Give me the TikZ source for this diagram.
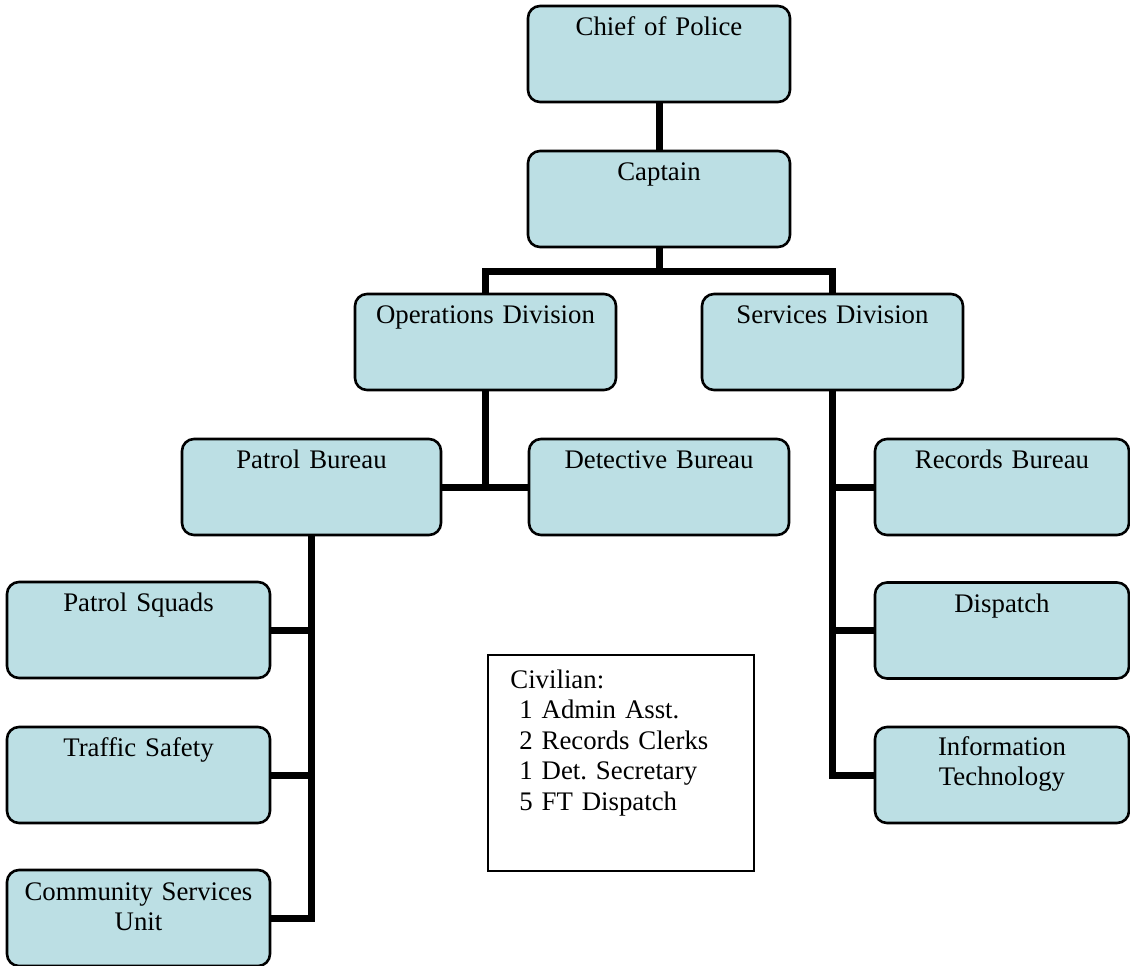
\documentclass[tikz,border=0pt]{standalone}
\usepackage{fontspec}
\setmainfont{Liberation Serif}
\usetikzlibrary{backgrounds}
\definecolor{boxfill}{RGB}{188,223,228}
\frenchspacing
\begin{document}
\begin{tikzpicture}[x=0.5pt,y=-0.5pt,
  box/.style={draw=black, line width=1.3pt, fill=boxfill, rounded corners=6pt,
    minimum height=48pt, inner sep=0pt},
  lbl/.style={anchor=base, inner sep=0pt, text width=128pt, align=center,
    font=\fontsize{13.4pt}{15pt}\selectfont},
  conn/.style={line width=3.5pt}]
\useasboundingbox (0,0) rectangle (1130,965);
% boxes
\node[box, minimum width=131pt] (chief) at (659,54) {};
\node[box, minimum width=131pt] (captain) at (659,199) {};
\node[box, minimum width=130.5pt] (ops) at (485.5,342) {};
\node[box, minimum width=130.5pt] (svc) at (832.5,342) {};
\node[box, minimum width=129.5pt] (patrol) at (311.5,487) {};
\node[box, minimum width=130pt] (det) at (659,487) {};
\node[box, minimum width=127pt] (records) at (1002,487) {};
\node[box, minimum width=127pt] (dispatch) at (1002,630.5) {};
\node[box, minimum width=127pt] (it) at (1002,775) {};
\node[box, minimum width=131.5pt] (squads) at (138.5,630) {};
\node[box, minimum width=131.5pt] (traffic) at (138.5,775) {};
\node[box, minimum width=131.5pt] (csu) at (138.5,918) {};
% labels
\node[lbl] (chiefT) at (659,35) {Chief of Police};
\node[lbl] (captainT) at (659,180) {Captain};
\node[lbl] (opsT) at (485.5,323) {Operations Division};
\node[lbl] (svcT) at (832.5,323) {Services Division};
\node[lbl] (patrolT) at (311.5,468) {Patrol Bureau};
\node[lbl] (detT) at (659,468) {Detective Bureau};
\node[lbl] (recordsT) at (1002,468) {Records Bureau};
\node[lbl] (dispatchT) at (1002,612) {Dispatch};
\node[lbl] (itT) at (1002,755) {Information\\Technology};
\node[lbl] (squadsT) at (138.5,611) {Patrol Squads};
\node[lbl] (trafficT) at (138.5,756) {Traffic Safety};
\node[lbl] (csuT) at (138.5,900) {Community Services\\Unit};
% civilian note
\node[draw=black, line width=1.2pt, anchor=north west, minimum width=133pt,
  minimum height=108pt, inner sep=0pt] (civ) at (487,654) {};
\node[anchor=base west, inner sep=0pt, text width=120pt, align=left,
  font=\fontsize{13.4pt}{15.25pt}\selectfont] (civT) at (510,688)
  {Civilian:\\ ~1 Admin Asst.\\ ~2 Records Clerks\\ ~1 Det. Secretary\\ ~5 FT Dispatch};
% connectors
\begin{scope}[on background layer]
\coordinate (bar) at (659,271);
\draw[conn] (chief.south) -- (captain.north);
\draw[conn] (captain.south) -- (bar);
\draw[conn] (ops.north) |- (bar) -| (svc.north);
\draw[conn] (ops.south) -- (ops.south |- patrol.east);
\draw[conn] (patrol.east) -- (det.west);
\draw[conn] (svc.south) |- (it.west);
\draw[conn] (records.west) -- (records.west -| svc.south);
\draw[conn] (dispatch.west) -- (dispatch.west -| svc.south);
\draw[conn] (patrol.south) |- (csu.east);
\draw[conn] (squads.east) -- (squads.east -| patrol.south);
\draw[conn] (traffic.east) -- (traffic.east -| patrol.south);
\end{scope}
\end{tikzpicture}
\end{document}
